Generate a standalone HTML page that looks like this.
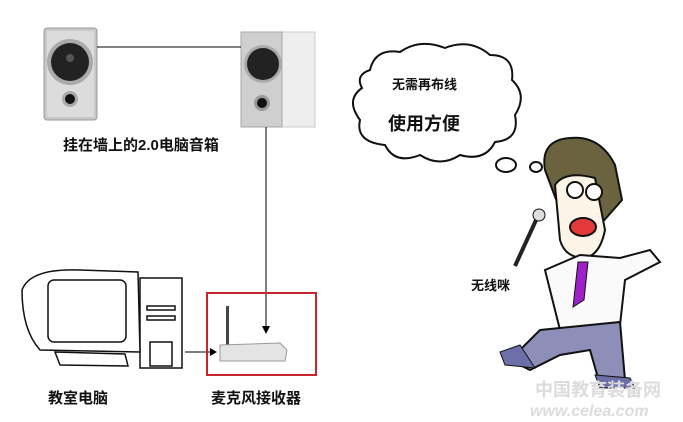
<!DOCTYPE html>
<html><head><meta charset="utf-8"><style>
html,body{margin:0;padding:0;background:#fff;}
svg{display:block}
text{font-family:"Liberation Sans","Noto Sans CJK SC",sans-serif;font-weight:bold;fill:#111}
</style></head><body>
<svg width="683" height="422" viewBox="0 0 683 422" xmlns="http://www.w3.org/2000/svg">
<!-- left speaker -->
<rect x="44" y="28" width="53" height="92" rx="3" fill="#c8c8c8" stroke="#999"/>
<rect x="47" y="31" width="47" height="86" fill="#dcdcdc"/>
<circle cx="70" cy="62" r="23" fill="#aaa"/><circle cx="70" cy="62" r="19" fill="#222"/><circle cx="70" cy="58" r="4" fill="#555"/>
<circle cx="70" cy="99" r="8" fill="#aaa"/><circle cx="70" cy="99" r="5" fill="#111"/>
<!-- right speaker -->
<rect x="282" y="32" width="33" height="95" fill="#eeeeee" stroke="#ccc"/>
<rect x="241" y="32" width="41" height="95" fill="#cfcfcf" stroke="#aaa"/>
<circle cx="263" cy="64" r="19" fill="#aaa"/><circle cx="263" cy="64" r="16" fill="#222"/>
<circle cx="262" cy="103" r="8" fill="#999"/><circle cx="262" cy="103" r="5" fill="#111"/>
<line x1="97" y1="47" x2="241" y2="47" stroke="#000" stroke-width="1"/>
<line x1="266" y1="127" x2="266" y2="330" stroke="#000" stroke-width="1"/>
<polygon points="262,326 270,326 266,334" fill="#000"/>
<text x="63" y="150" font-size="15">挂在墙上的2.0电脑音箱</text>
<!-- computer -->
<g fill="#fff" stroke="#111" stroke-width="1.5">
<rect x="140" y="278" width="42" height="90"/>
<path d="M22 290 Q30 268 80 270 L138 272 L140 352 L40 350 Q22 330 22 290Z"/>
<rect x="48" y="280" width="78" height="62" rx="6"/>
<path d="M55 352 L125 354 L128 366 L60 365Z"/>
<rect x="147" y="306" width="28" height="4"/><rect x="147" y="316" width="28" height="4"/>
<rect x="150" y="342" width="22" height="24"/>
</g>
<line x1="185" y1="352" x2="213" y2="352" stroke="#000"/>
<polygon points="210,348 217,352 210,356" fill="#000"/>
<rect x="207" y="293" width="109" height="82" fill="none" stroke="#c8262c" stroke-width="2"/>
<rect x="226" y="306" width="3" height="40" fill="#444"/>
<path d="M220 345 L280 343 L287 350 L285 361 L220 361Z" fill="#e4e4e4" stroke="#999"/>
<text x="48" y="403" font-size="15">教室电脑</text>
<text x="211" y="403" font-size="15">麦克风接收器</text>
<!-- cloud -->
<path d="M370 70 Q375 48 400 52 Q420 38 445 48 Q470 38 490 55 Q515 55 512 80 Q528 95 515 115 Q520 140 495 142 Q485 162 460 155 Q440 168 420 155 Q395 165 385 145 Q355 142 360 120 Q345 100 362 88 Q355 75 370 70Z" fill="#fff" stroke="#111" stroke-width="2"/>
<ellipse cx="506" cy="165" rx="10" ry="7" fill="#fff" stroke="#111" stroke-width="2"/>
<ellipse cx="536" cy="167" rx="6" ry="5" fill="#fff" stroke="#111" stroke-width="2"/>
<text x="392" y="89" font-size="13">无需再布线</text>
<text x="388" y="130" font-size="18">使用方便</text>
<!-- man -->
<path d="M545 170 Q540 140 570 138 Q600 135 615 165 L622 200 L600 225 L560 210Z" fill="#6b6340" stroke="#111" stroke-width="2"/>
<path d="M555 185 Q565 170 595 178 L605 230 Q600 255 585 258 Q565 258 560 240 Z" fill="#fcf4e6" stroke="#111" stroke-width="2"/>
<circle cx="575" cy="190" r="8" fill="#fff" stroke="#111" stroke-width="2"/><circle cx="594" cy="192" r="8" fill="#fff" stroke="#111" stroke-width="2"/>
<ellipse cx="583" cy="227" rx="13" ry="9" fill="#e23a3a" stroke="#111" stroke-width="2"/>
<path d="M545 270 L580 255 L620 258 L650 250 L660 262 L625 280 L620 325 L560 330 L550 290Z" fill="#fafafa" stroke="#111" stroke-width="2"/>
<polygon points="578,262 588,262 584,300 573,307" fill="#a020c8" stroke="#111"/>
<path d="M540 330 L620 322 L625 380 L600 385 L590 350 L560 355 L530 370 L510 360Z" fill="#8d8fb8" stroke="#111" stroke-width="2"/>
<path d="M500 352 L520 345 L535 368 L505 365Z" fill="#6d70a8" stroke="#111"/>
<path d="M595 375 L630 378 L635 388 L600 388Z" fill="#6d70a8" stroke="#111"/>
<line x1="537" y1="218" x2="515" y2="266" stroke="#222" stroke-width="4"/>
<circle cx="539" cy="215" r="6" fill="#ddd" stroke="#111"/>
<text x="471" y="290" font-size="13">无线咪</text>
<text x="535" y="396" font-size="18" style="fill:#dcdcdc">中国教育装备网</text>
<text x="530" y="416" font-size="16" style="fill:#dcdcdc;font-style:italic">www.celea.com</text>
</svg>
</body></html>
